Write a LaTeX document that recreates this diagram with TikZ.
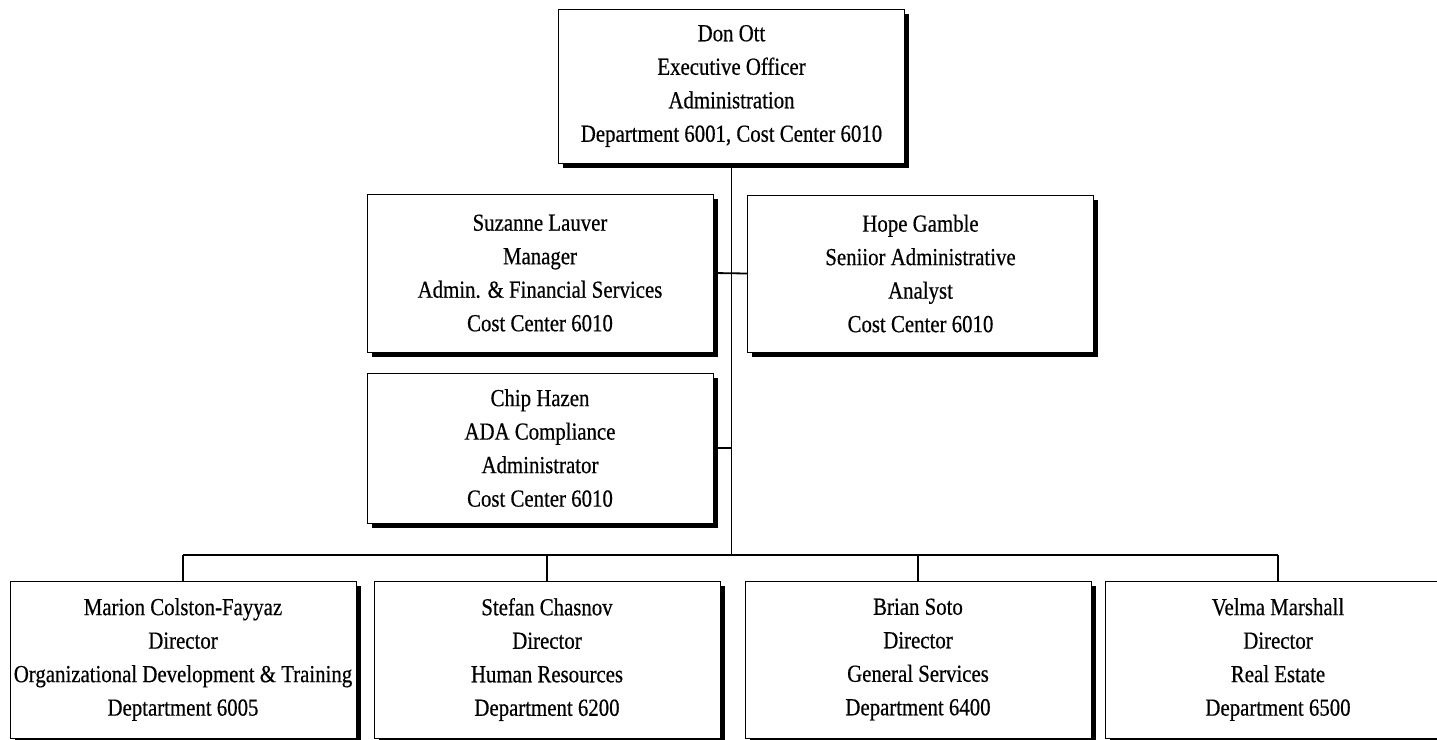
\documentclass[tikz,border=0pt]{standalone}
\usepackage{fontspec}
\setmainfont[FakeStretch=0.85,FakeBold=0.5]{Liberation Serif}
\usetikzlibrary{shadows}
\begin{document}
\begin{tikzpicture}[x=1pt,y=-1pt,
  orgbox/.style={draw=black, line width=1pt, fill=white, rectangle, align=center,
    inner sep=0pt, minimum width=346pt,
    font=\fontsize{24.5}{33.5}\selectfont,
    drop shadow={shadow xshift=4.5pt, shadow yshift=-5pt, fill=black, opacity=1}},
  link/.style={draw=black, line width=1.8pt}]
\useasboundingbox (0,0) rectangle (1437,739);
\clip (0,0) rectangle (1437,739);
\fill[white] (0,0) rectangle (1437,739);

\node[orgbox, minimum height=154pt] (top) at (731.5,86)
  {Don Ott\\Executive Officer\\Administration\\Department 6001, Cost Center 6010};
\node[orgbox, minimum height=158pt] (suz) at (540,273)
  {Suzanne Lauver\\Manager\\Admin. \& Financial Services\\Cost Center 6010};
\node[orgbox, minimum height=157pt] (hope) at (920.5,273.5)
  {Hope Gamble\\Seniior Administrative\\Analyst\\Cost Center 6010};
\node[orgbox, minimum height=150pt] (chip) at (540,448)
  {Chip Hazen\\ADA Compliance\\Administrator\\Cost Center 6010};

\node[orgbox, minimum height=157pt] (b1) at (183,659.5)
  {Marion Colston-Fayyaz\\Director\\Organizational Development \& Training\\Deptartment 6005};
\node[orgbox, minimum height=157pt] (b2) at (547,659.5)
  {Stefan Chasnov\\Director\\Human Resources\\Department 6200};
\node[orgbox, minimum height=157pt] (b3) at (918,659.5)
  {Brian Soto\\Director\\General Services\\Department 6400};
\node[orgbox, minimum height=157pt] (b4) at (1278,659.5)
  {Velma Marshall\\Director\\Real Estate\\Department 6500};

\coordinate (bus) at (731.5,555);
\draw[link] (top.south) -- (bus);
\draw[link] (suz.east) -- (hope.west);
\draw[link] (chip.east) -- (chip.east -| bus);
\draw[link] (b1.north |- bus) -- (b4.north |- bus);
\draw[link] (b1.north |- bus) -- (b1.north);
\draw[link] (b2.north |- bus) -- (b2.north);
\draw[link] (b3.north |- bus) -- (b3.north);
\draw[link] (b4.north |- bus) -- (b4.north);
\end{tikzpicture}
\end{document}
